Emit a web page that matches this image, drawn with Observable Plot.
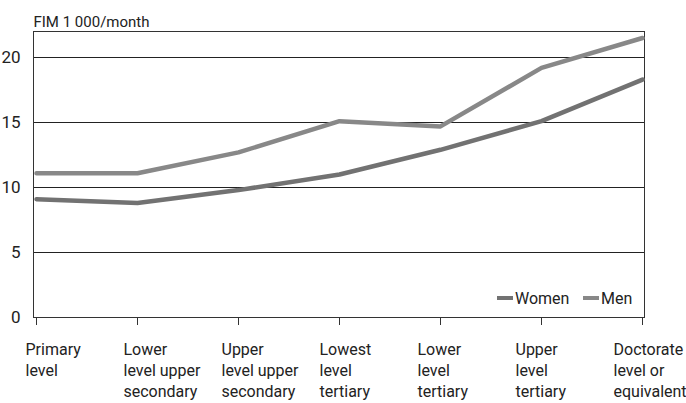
<!DOCTYPE html>
<html><head><meta charset="utf-8">
<script src="https://cdn.jsdelivr.net/npm/d3@7"></script>
<script src="https://cdn.jsdelivr.net/npm/@observablehq/plot@0.6"></script>
<style>body{margin:0;background:#fff}</style>
</head><body><div id="chart"></div>
<script>
const categories = ["Primary\nlevel","Lower\nlevel upper\nsecondary","Upper\nlevel upper\nsecondary","Lowest\nlevel\ntertiary","Lower\nlevel\ntertiary","Upper\nlevel\ntertiary","Doctorate\nlevel or\nequivalent"];
const men = [11.1, 11.1, 12.7, 15.1, 14.7, 19.2, 21.5];
const women = [9.1, 8.8, 9.8, 11.0, 12.9, 15.1, 18.3];
const yTicks = [0, 5, 10, 15, 20];
const seriesNames = ["Women", "Men"];
const seriesColors = ["#727272", "#888888"];
const unitLabel = "FIM 1 000/month";

const rows = [];
categories.forEach((c, i) => {
  rows.push({cat: c, value: women[i], series: "Women"});
  rows.push({cat: c, value: men[i], series: "Men"});
});

const font = "Roboto, 'Liberation Sans', sans-serif";

function legend(index, scales, values, dims) {
  const g = d3.create("svg:g").attr("font-family", font).attr("font-size", 16).attr("fill", "#222").attr("text-anchor", "start");
  const right = dims.width - dims.marginRight;
  const y = dims.height - dims.marginBottom - 19;
  const items = [{name: seriesNames[0], x: right - 147}, {name: seriesNames[1], x: right - 61}];
  items.forEach(it => {
    g.append("line").attr("x1", it.x).attr("x2", it.x + 16).attr("y1", y).attr("y2", y)
      .attr("stroke", scales.color(it.name)).attr("stroke-width", 4);
    g.append("text").attr("x", it.x + 18).attr("y", y).attr("dy", "0.35em").text(it.name);
  });
  return g.node();
}

const chart = Plot.plot({
  width: 686, height: 403,
  marginLeft: 33, marginRight: 42, marginTop: 31, marginBottom: 86,
  style: {fontFamily: font, fontSize: "16px", color: "#222", background: "#fff"},
  x: {type: "point", domain: categories, padding: 0},
  y: {domain: [0, 22]},
  color: {domain: seriesNames, range: seriesColors},
  marks: [
    Plot.gridY(yTicks, {stroke: "#222", strokeOpacity: 1, strokeWidth: 1}),
    Plot.frame({stroke: "#333"}),
    Plot.axisY(yTicks, {tickSize: 0, tickPadding: 13, fontSize: 17, label: null}),
    Plot.axisX({tickSize: 8, text: null, label: null, stroke: "#333"}),
    ...categories.map((c, i) => Plot.text([c], {
      x: d => d, frameAnchor: "bottom", lineAnchor: "top", textAnchor: "start",
      dy: 23, dx: -11 - 3 * i, lineHeight: 1.3, fontSize: 16, text: d => d
    })),
    Plot.line(rows, {x: "cat", y: "value", z: "series", stroke: "series", strokeWidth: 4.5, curve: "linear"}),
    Plot.text([unitLabel], {frameAnchor: "top-left", dy: -15, text: d => d, textAnchor: "start", fontSize: 15}),
    legend
  ]
});
document.getElementById("chart").append(chart);
</script></body></html>
